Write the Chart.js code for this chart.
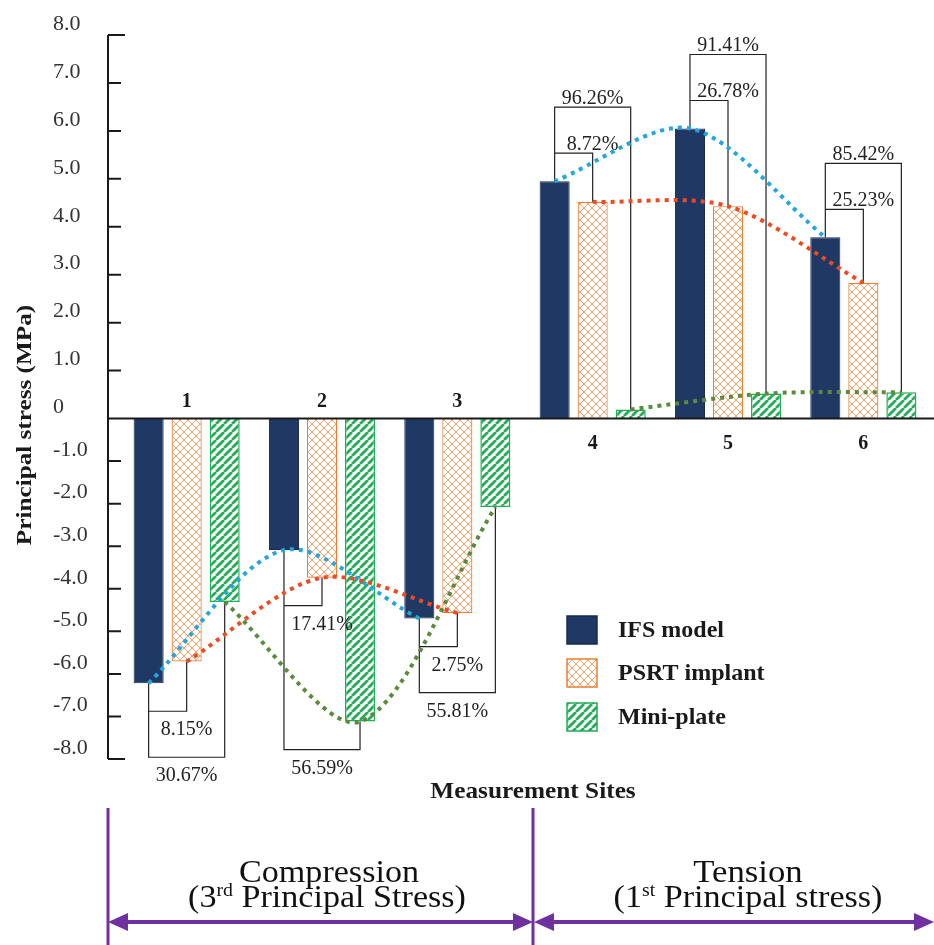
<!DOCTYPE html>
<html>
<head>
<meta charset="utf-8">
<script src="https://cdn.jsdelivr.net/npm/chart.js@4.4.1/dist/chart.umd.min.js"></script>
<style>
  html, body { margin: 0; padding: 0; background: #ffffff; }
  #wrap { width: 934px; height: 945px; }
</style>
</head>
<body>
<div id="wrap"><canvas id="stressChart" width="934" height="945"></canvas></div>
<script>
// === Values (MPa) ===
const sites = ["1", "2", "3", "4", "5", "6"];
const ifsModel = [-6.22, -3.09, -4.70, 4.95, 6.05, 3.78];
const psrtImplant = [-5.71, -3.74, -4.57, 4.52, 4.43, 2.83];
const miniPlate = [-4.31, -7.12, -2.08, 0.19, 0.52, 0.55];

// === Difference labels (IFS vs PSRT, IFS vs Mini-plate) ===
const psrtDiff = ["8.15%", "17.41%", "2.75%", "8.72%", "26.78%", "25.23%"];
const miniDiff = ["30.67%", "56.59%", "55.81%", "96.26%", "91.41%", "85.42%"];

// === Axis tick labels (ascending order, as Chart.js builds them) ===
const posTickLabels = ["0", "1.0", "2.0", "3.0", "4.0", "5.0", "6.0", "7.0", "8.0"];
const negTickLabels = ["-8.0", "-7.0", "-6.0", "-5.0", "-4.0", "-3.0", "-2.0", "-1.0", ""];

const seriesNames = ["IFS model", "PSRT implant", "Mini-plate"];
const seriesValues = [ifsModel, psrtImplant, miniPlate];
const curveColors = ["#22a6e0", "#ef4a20", "#5b8a3c"];

const serif = "'Liberation Serif', 'Times New Roman', serif";
const ink = "#1a1a1a";
const purple = "#7030a0";

// === Bar fill patterns ===
function makeLattice() {
  const c = document.createElement("canvas");
  c.width = 8;
  c.height = 8;
  const g = c.getContext("2d");
  g.fillStyle = "#ffffff";
  g.fillRect(0, 0, 8, 8);
  g.strokeStyle = "#f3a36e";
  g.lineWidth = 1;
  g.beginPath();
  g.moveTo(-1, -1);
  g.lineTo(9, 9);
  g.moveTo(-1, 9);
  g.lineTo(9, -1);
  g.stroke();
  return g.createPattern(c, "repeat");
}

function makeStripes() {
  const s = 8;
  const c = document.createElement("canvas");
  c.width = s;
  c.height = s;
  const g = c.getContext("2d");
  g.fillStyle = "#ffffff";
  g.fillRect(0, 0, s, s);
  g.strokeStyle = "#22ad57";
  g.lineWidth = 2.8;
  g.beginPath();
  [-s, 0, s].forEach((k) => {
    g.moveTo(k, s);
    g.lineTo(k + s, 0);
  });
  g.stroke();
  return g.createPattern(c, "repeat");
}

const fills = ["#203864", makeLattice(), makeStripes()];
const borders = ["#182c52", "#ed7d31", "#22ad57"];
const borderWidths = [1, 1.2, 1.5];

const negPart = (arr) => arr.map((v) => (v < 0 ? v : null));
const posPart = (arr) => arr.map((v) => (v >= 0 ? v : null));

// negative parts use datasets 0-2, positive parts 3-5
const datasets = [];
[["yNeg", negPart], ["yPos", posPart]].forEach(([axis, part]) => {
  seriesValues.forEach((vals, s) => {
    datasets.push({
      label: seriesNames[s],
      data: part(vals),
      yAxisID: axis,
      stack: "s" + s,
      backgroundColor: fills[s],
      borderColor: borders[s],
      borderWidth: borderWidths[s],
      categoryPercentage: 0.843,
      barPercentage: 0.79,
    });
  });
});

// === Helper: bar end position of a series at a site ===
function barEnd(chart, s, i) {
  const idx = seriesValues[s][i] < 0 ? s : s + 3;
  const el = chart.getDatasetMeta(idx).data[i];
  const p = el.getProps(["x", "y"], true);
  return { x: p.x, y: p.y };
}

// === Helper: smooth curve through points (same idea as Chart.js tension) ===
function splinePath(ctx, pts, t) {
  const cps = pts.map((p, k) => {
    const prev = pts[k - 1] || p;
    const next = pts[k + 1] || p;
    const d01 = Math.hypot(p.x - prev.x, p.y - prev.y);
    const d12 = Math.hypot(next.x - p.x, next.y - p.y);
    const sum = d01 + d12 || 1;
    const fa = (t * d01) / sum;
    const fb = (t * d12) / sum;
    return {
      inX: p.x - fa * (next.x - prev.x),
      inY: p.y - fa * (next.y - prev.y),
      outX: p.x + fb * (next.x - prev.x),
      outY: p.y + fb * (next.y - prev.y),
    };
  });
  ctx.moveTo(pts[0].x, pts[0].y);
  for (let k = 1; k < pts.length; k++) {
    ctx.bezierCurveTo(cps[k - 1].outX, cps[k - 1].outY, cps[k].inX, cps[k].inY, pts[k].x, pts[k].y);
  }
}

// === Helper: text made of runs, stretched horizontally ===
function runText(ctx, runs, cx, baseline, sx) {
  let total = 0;
  runs.forEach((r) => {
    ctx.font = `${r.weight || "normal"} ${r.size}px ${serif}`;
    r.w = ctx.measureText(r.t).width;
    total += r.w;
  });
  ctx.save();
  ctx.translate(cx, baseline);
  ctx.scale(sx, 1);
  ctx.textAlign = "left";
  ctx.textBaseline = "alphabetic";
  let x = -total / 2;
  runs.forEach((r) => {
    ctx.font = `${r.weight || "normal"} ${r.size}px ${serif}`;
    ctx.fillText(r.t, x, -(r.rise || 0));
    x += r.w;
  });
  ctx.restore();
}

function arrowHead(ctx, tipX, y, dir) {
  ctx.beginPath();
  ctx.moveTo(tipX, y);
  ctx.lineTo(tipX - dir * 20, y - 9);
  ctx.lineTo(tipX - dir * 20, y + 9);
  ctx.closePath();
  ctx.fill();
}

// === Plugin: axis, brackets, curves, labels, legend and the bottom annotation ===
const figureExtras = {
  id: "figureExtras",
  afterDatasetsDraw(chart) {
    const { ctx, chartArea, scales } = chart;
    const yPos = scales.yPos;
    const yNeg = scales.yNeg;
    const xs = scales.x;
    const axisX = chartArea.left - 11;
    const zeroY = yPos.getPixelForValue(0);

    ctx.save();
    ctx.strokeStyle = ink;
    ctx.lineCap = "butt";

    // zero line and vertical axis
    ctx.lineWidth = 2;
    ctx.beginPath();
    ctx.moveTo(axisX, zeroY);
    ctx.lineTo(chart.width, zeroY);
    ctx.moveTo(axisX, yPos.getPixelForValue(8));
    ctx.lineTo(axisX, yNeg.getPixelForValue(-8));
    ctx.stroke();

    // inward tick marks
    ctx.beginPath();
    [yPos, yNeg].forEach((sc) => {
      sc.ticks.forEach((tk) => {
        if (tk.value === 0) return;
        const y = sc.getPixelForValue(tk.value);
        const len = Math.abs(tk.value) === 8 ? 17 : 13;
        ctx.moveTo(axisX, y);
        ctx.lineTo(axisX + len, y);
      });
    });
    ctx.stroke();

    // comparison brackets with percentages
    ctx.lineWidth = 1.2;
    ctx.strokeStyle = "#222";
    ctx.fillStyle = "#222";
    ctx.font = `20px ${serif}`;
    ctx.textAlign = "center";
    ctx.textBaseline = "alphabetic";
    sites.forEach((s, i) => {
      const a = barEnd(chart, 0, i);
      const b = barEnd(chart, 1, i);
      const m = barEnd(chart, 2, i);
      const dir = ifsModel[i] < 0 ? 1 : -1;
      const far = (u, v) => (dir > 0 ? Math.max(u, v) : Math.min(u, v));
      const inner = far(a.y, b.y) + dir * 28;
      const outer = far(inner + dir * 46, m.y + dir * 28);
      ctx.beginPath();
      ctx.moveTo(a.x, a.y);
      ctx.lineTo(a.x, outer);
      ctx.lineTo(m.x, outer);
      ctx.lineTo(m.x, m.y);
      ctx.moveTo(a.x, inner);
      ctx.lineTo(b.x, inner);
      ctx.lineTo(b.x, b.y);
      ctx.stroke();
      const ty = (y) => (dir > 0 ? y + 24 : y - 3);
      ctx.fillText(psrtDiff[i], b.x, ty(inner));
      ctx.fillText(miniDiff[i], b.x, ty(outer));
    });

    // dotted trend curves through bar ends
    ctx.lineWidth = 4;
    ctx.setLineDash([4, 5]);
    seriesValues.forEach((vals, sIdx) => {
      ctx.strokeStyle = curveColors[sIdx];
      [[0, 1, 2], [3, 4, 5]].forEach((group) => {
        const pts = group.map((i) => barEnd(chart, sIdx, i));
        ctx.beginPath();
        splinePath(ctx, pts, 0.3);
        ctx.stroke();
      });
    });
    ctx.setLineDash([]);

    // site numbers
    ctx.fillStyle = ink;
    ctx.font = `bold 20px ${serif}`;
    ctx.textBaseline = "middle";
    sites.forEach((s, i) => {
      const x = xs.getPixelForValue(i);
      const y = ifsModel[i] < 0 ? zeroY - 17 : zeroY + 25;
      ctx.fillText(s, x, y);
    });
    ctx.restore();
  },
  afterDraw(chart) {
    const { ctx } = chart;
    ctx.save();

    // legend
    const lx = 567;
    const rows = [630, 673, 717];
    seriesNames.forEach((name, s) => {
      const y = rows[s];
      ctx.fillStyle = fills[s];
      ctx.fillRect(lx, y - 14, 30, 28);
      ctx.strokeStyle = borders[s];
      ctx.lineWidth = 1.5;
      ctx.strokeRect(lx, y - 14, 30, 28);
      ctx.fillStyle = ink;
      ctx.font = `bold 24px ${serif}`;
      ctx.textAlign = "left";
      ctx.textBaseline = "middle";
      ctx.fillText(name, lx + 51, y + 1);
    });

    // y axis title
    ctx.save();
    ctx.translate(26, 425);
    ctx.rotate(-Math.PI / 2);
    ctx.scale(1.2, 1);
    ctx.fillStyle = ink;
    ctx.font = `bold 21px ${serif}`;
    ctx.textAlign = "center";
    ctx.textBaseline = "middle";
    ctx.fillText("Principal stress (MPa)", 0, 0);
    ctx.restore();

    // x axis title
    ctx.fillStyle = ink;
    runText(ctx, [{ t: "Measurement Sites", size: 23, weight: "bold" }], 533, 798, 1.1);

    // compression / tension markers
    ctx.strokeStyle = purple;
    ctx.fillStyle = purple;
    ctx.lineWidth = 3;
    ctx.beginPath();
    ctx.moveTo(108, 808);
    ctx.lineTo(108, 945);
    ctx.moveTo(533, 808);
    ctx.lineTo(533, 945);
    ctx.stroke();
    ctx.lineWidth = 4;
    ctx.beginPath();
    ctx.moveTo(115, 922);
    ctx.lineTo(526, 922);
    ctx.moveTo(540, 922);
    ctx.lineTo(927, 922);
    ctx.stroke();
    arrowHead(ctx, 108, 922, -1);
    arrowHead(ctx, 533, 922, 1);
    arrowHead(ctx, 534, 922, -1);
    arrowHead(ctx, 934, 922, 1);

    ctx.fillStyle = "#111";
    runText(ctx, [{ t: "Compression", size: 31 }], 329, 882, 1.1);
    runText(ctx, [
      { t: "(3", size: 31 },
      { t: "rd", size: 18, rise: 11 },
      { t: " Principal Stress)", size: 31 },
    ], 327, 907, 1.1);
    runText(ctx, [{ t: "Tension", size: 31 }], 748, 882, 1.12);
    runText(ctx, [
      { t: "(1", size: 31 },
      { t: "st", size: 18, rise: 11 },
      { t: " Principal stress)", size: 31 },
    ], 748, 907, 1.1);
    ctx.restore();
  },
};

const tickFont = { family: serif, size: 22 };

new Chart(document.getElementById("stressChart"), {
  type: "bar",
  data: { labels: sites, datasets: datasets },
  options: {
    responsive: false,
    animation: false,
    events: [],
    layout: { padding: { left: 53, top: 35, right: 3, bottom: 186 } },
    plugins: {
      legend: { display: false },
      tooltip: { enabled: false },
    },
    scales: {
      x: {
        type: "category",
        display: false,
        stacked: true,
        offset: true,
      },
      yPos: {
        type: "linear",
        position: "left",
        stack: "y",
        stackWeight: 383.5,
        weight: 1,
        stacked: true,
        min: 0,
        max: 8,
        afterFit: (scale) => { scale.width = 66; },
        grid: { display: false, drawTicks: false },
        border: { display: false },
        ticks: {
          stepSize: 1,
          autoSkip: false,
          crossAlign: "far",
          labelOffset: -11,
          color: "#333",
          font: tickFont,
          callback: (v, i) => posTickLabels[i],
        },
      },
      yNeg: {
        type: "linear",
        position: "left",
        stack: "y",
        stackWeight: 340.5,
        weight: 0,
        stacked: true,
        min: -8,
        max: 0,
        afterFit: (scale) => { scale.width = 66; },
        grid: { display: false, drawTicks: false },
        border: { display: false },
        ticks: {
          stepSize: 1,
          autoSkip: false,
          crossAlign: "far",
          labelOffset: -11,
          color: "#333",
          font: tickFont,
          callback: (v, i) => negTickLabels[i],
        },
      },
    },
  },
  plugins: [figureExtras],
});
</script>
</body>
</html>
